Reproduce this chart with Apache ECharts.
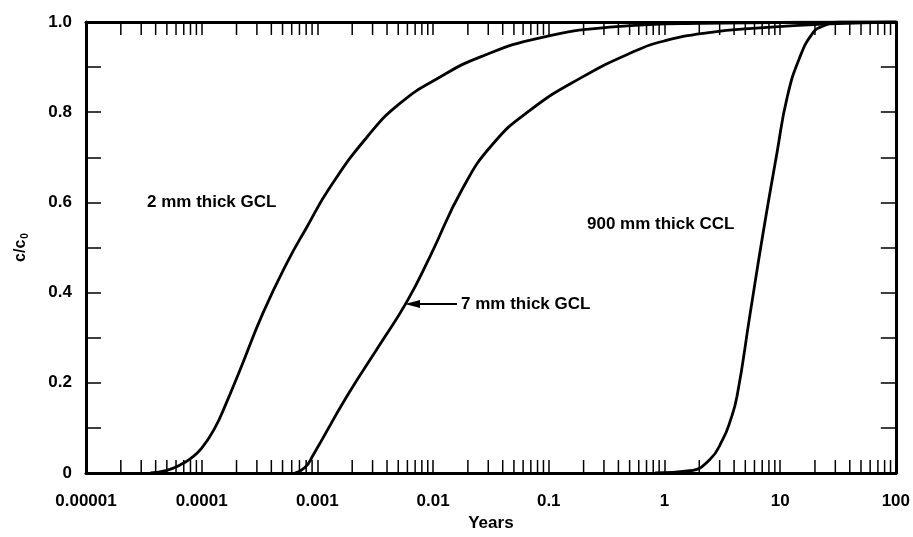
<!DOCTYPE html>
<html>
<head>
<meta charset="utf-8">
<script src="https://cdn.jsdelivr.net/npm/echarts@6/dist/echarts.min.js"></script>
<style>
html,body{margin:0;padding:0;background:#fff;}
#chart{width:913px;height:537px;}
</style>
</head>
<body>
<div id="chart"></div>
<script>
// ---- data ----
const xTickValues = [0.00001, 0.0001, 0.001, 0.01, 0.1, 1, 10, 100];
const xTickLabels = ['0.00001', '0.0001', '0.001', '0.01', '0.1', '1', '10', '100'];
const yTickLabels = ['0', '0.2', '0.4', '0.6', '0.8', '1.0'];
const minorMultipliers = [2, 3, 4, 5, 6, 7, 8, 9];

const gcl2Years = [3.6e-5, 5.0e-5, 6.5e-5, 8.0e-5, 1.0e-4, 1.3e-4, 1.6e-4, 2.14e-4, 3.39e-4, 5.46e-4, 8.1e-4, 1.29e-3, 2.69e-3, 5.2e-3, 0.0115, 0.0254, 0.084, 0.36, 2.0, 100];
const gcl2C     = [0, 0.006, 0.018, 0.032, 0.055, 0.1, 0.15, 0.228, 0.355, 0.466, 0.545, 0.634, 0.745, 0.82, 0.878, 0.922, 0.965, 0.989, 0.997, 1.0];

const gcl7Years = [6.4e-4, 7.8e-4, 9.2e-4, 1.8e-3, 3.47e-3, 5.94e-3, 9.4e-3, 0.0181, 0.033, 0.0687, 0.186, 0.55, 1.0, 2.33, 6.68, 26.9, 100];
const gcl7C     = [0, 0.012, 0.04, 0.17, 0.285, 0.38, 0.48, 0.632, 0.73, 0.804, 0.875, 0.935, 0.958, 0.976, 0.987, 0.996, 1.0];

const ccl900Years = [0.83, 1.66, 2.47, 3.2, 3.7, 4.24, 5.48, 7.1, 9.38, 11.5, 14.8, 19.2, 23, 33, 100];
const ccl900C     = [0, 0.005, 0.03, 0.075, 0.115, 0.17, 0.35, 0.53, 0.709, 0.833, 0.922, 0.976, 0.99, 1.0, 1.0];

const seriesNames = ['2 mm thick GCL', '7 mm thick GCL', '900 mm thick CCL'];

// ---- build ----
const zip = (xs, ys) => xs.map((x, i) => [x, ys[i]]);
const minorTicks = [];
xTickValues.slice(0, -1).forEach(d => minorMultipliers.forEach(m => minorTicks.push([d * m, 0])));

const FONT = '"Liberation Sans", Arial, Helvetica, sans-serif';
const txt = { fontFamily: FONT, fontWeight: 'bold', fontSize: 17, color: '#000' };

function xLabel(v) {
  const i = Math.round(Math.log10(v)) + 5;
  return xTickLabels[i] !== undefined ? xTickLabels[i] : '';
}
function yLabel(v) {
  const k = Math.round(v * 10);
  return k % 2 === 0 ? yTickLabels[k / 2] : '';
}

const chart = echarts.init(document.getElementById('chart'), null, { renderer: 'canvas' });

const lineStyle = { color: '#000', width: 2.8 };

chart.setOption({
  animation: false,
  backgroundColor: '#fff',
  grid: { left: 86, right: 17, top: 22, bottom: 64, containLabel: false },
  xAxis: [
    {
      type: 'log', logBase: 10, min: 0.00001, max: 100, position: 'bottom',
      name: 'Years', nameLocation: 'middle', nameGap: 42,
      nameTextStyle: Object.assign({}, txt),
      axisLine: { show: true, onZero: false, lineStyle: { color: '#000', width: 3 } },
      axisTick: { show: true, inside: true, length: 13, lineStyle: { color: '#000', width: 1.5 } },
      axisLabel: Object.assign({ margin: 20, formatter: xLabel }, txt),
      splitLine: { show: false }, minorTick: { show: false }
    },
    {
      type: 'log', logBase: 10, min: 0.00001, max: 100, position: 'top',
      axisLine: { show: true, onZero: false, lineStyle: { color: '#000', width: 3 } },
      axisTick: { show: true, inside: true, length: 13, lineStyle: { color: '#000', width: 1.5 } },
      axisLabel: { show: false }, splitLine: { show: false }
    }
  ],
  yAxis: [
    {
      type: 'value', min: 0, max: 1, interval: 0.1, position: 'left',
      name: '{a|c/c}{b|0}', nameLocation: 'middle', nameGap: 56, nameRotate: 90,
      nameTextStyle: {
        rich: {
          a: Object.assign({}, txt, { fontSize: 16 }),
          b: Object.assign({}, txt, { fontSize: 10, padding: [8, 0, 0, 1] })
        }
      },
      axisLine: { show: true, lineStyle: { color: '#000', width: 3 } },
      axisTick: { show: true, inside: true, length: 15, lineStyle: { color: '#000', width: 1.5 } },
      axisLabel: Object.assign({ margin: 14, formatter: yLabel }, txt),
      splitLine: { show: false }
    },
    {
      type: 'value', min: 0, max: 1, interval: 0.1, position: 'right',
      axisLine: { show: true, lineStyle: { color: '#000', width: 3 } },
      axisTick: { show: true, inside: true, length: 15, lineStyle: { color: '#000', width: 1.5 } },
      axisLabel: { show: false }, splitLine: { show: false }
    }
  ],
  series: [
    {
      name: 'minor ticks', type: 'custom', xAxisIndex: 0, yAxisIndex: 0, silent: true, clip: false,
      data: minorTicks, encode: { x: 0, y: 1 },
      renderItem: function (params, api) {
        const x = api.coord([api.value(0), 0])[0];
        const cs = params.coordSys;
        const st = { stroke: '#000', lineWidth: 1.5 };
        return {
          type: 'group',
          children: [
            { type: 'line', shape: { x1: x, y1: cs.y + cs.height, x2: x, y2: cs.y + cs.height - 13 }, style: st },
            { type: 'line', shape: { x1: x, y1: cs.y, x2: x, y2: cs.y + 13 }, style: st }
          ]
        };
      }
    },
    { name: seriesNames[0], type: 'line', data: zip(gcl2Years, gcl2C), smooth: 0.5, showSymbol: false, symbol: 'none', lineStyle: lineStyle },
    { name: seriesNames[1], type: 'line', data: zip(gcl7Years, gcl7C), smooth: 0.5, showSymbol: false, symbol: 'none', lineStyle: lineStyle },
    { name: seriesNames[2], type: 'line', data: zip(ccl900Years, ccl900C), smooth: 0.5, showSymbol: false, symbol: 'none', lineStyle: lineStyle }
  ],
  graphic: [
    { type: 'text', left: 147, top: 194, style: { text: seriesNames[0], fill: '#000', font: 'bold 17px ' + FONT } },
    { type: 'text', left: 587, top: 216, style: { text: seriesNames[2], fill: '#000', font: 'bold 17px ' + FONT } },
    { type: 'text', left: 461, top: 296, style: { text: seriesNames[1], fill: '#000', font: 'bold 17px ' + FONT } },
    { type: 'line', shape: { x1: 412, y1: 304, x2: 457, y2: 304 }, style: { stroke: '#000', lineWidth: 2 } },
    { type: 'polygon', shape: { points: [[405, 304], [420, 300], [420, 308]] }, style: { fill: '#000' } }
  ]
});
</script>
</body>
</html>
